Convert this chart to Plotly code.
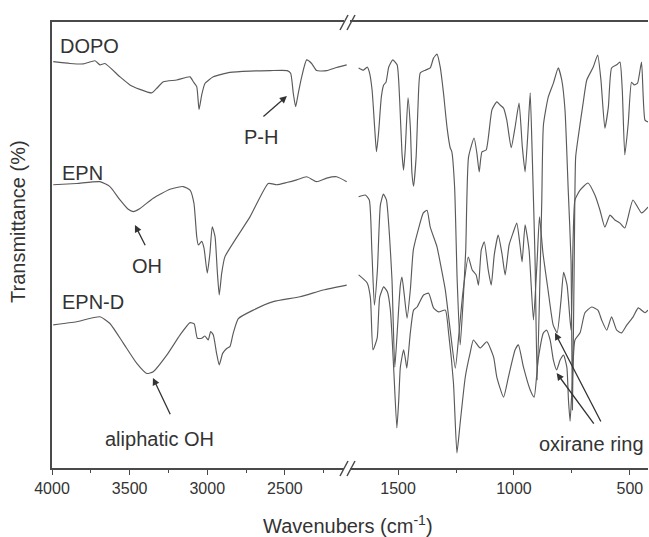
import plotly.graph_objects as go

# ---------------- data (wavenumber cm-1, transmittance arb. units) ----------------
# high-wavenumber window (4000 - 2100)
dopo_hi_wn = [3992, 3884, 3798, 3723, 3691, 3659, 3562, 3498, 3434, 3358, 3326, 3283, 3197, 3111, 3090,
              3068, 3053, 3036, 3015, 2961, 2854, 2725, 2596, 2485, 2463, 2446, 2431, 2414, 2392, 2360,
              2328, 2296, 2231, 2167, 2102]
dopo_hi_t = [91.1, 90.7, 90.6, 91.3, 90.4, 90.7, 87.7, 85.9, 84.9, 84.1, 85.1, 86.6, 87.0, 87.7, 86.6,
             85.5, 80.4, 83.6, 86.2, 87.7, 88.7, 89.0, 89.1, 89.1, 88.5, 84.0, 81.0, 84.0, 87.7, 91.5,
             90.7, 89.1, 89.1, 89.8, 90.4]

epn_hi_wn = [3992, 3841, 3691, 3627, 3562, 3509, 3477, 3433, 3348, 3240, 3155, 3111, 3086, 3068, 3058,
             3036, 3021, 3000, 2983, 2968, 2950, 2936, 2923, 2907, 2886, 2725, 2607, 2553, 2489, 2424,
             2360, 2296, 2231, 2167, 2102]
epn_hi_t = [63.5, 63.8, 64.2, 63.1, 60.1, 58.0, 57.5, 58.2, 60.5, 62.5, 63.1, 62.3, 59.4, 51.9, 50.0,
            50.8, 49.3, 43.7, 48.1, 54.1, 51.9, 44.4, 38.8, 43.7, 47.4, 56.3, 63.8, 63.5, 64.0, 64.6,
            65.3, 64.2, 65.0, 65.3, 64.2]

epnd_hi_wn = [3992, 3841, 3691, 3627, 3541, 3455, 3390, 3348, 3261, 3176, 3111, 3084, 3064, 3036, 3015,
              2994, 2978, 2961, 2940, 2923, 2901, 2875, 2854, 2833, 2800, 2704, 2575, 2403, 2253, 2102]
epnd_hi_t = [32.1, 32.8, 33.9, 32.4, 28.0, 23.5, 21.2, 21.6, 25.3, 29.8, 32.6, 32.3, 29.1, 29.1, 29.6,
             28.7, 30.6, 29.8, 25.7, 23.1, 25.7, 26.8, 27.2, 30.2, 33.5, 35.4, 37.3, 38.4, 39.9, 41.0]

# fingerprint window (1720 - 420)
dopo_lo_wn = [1670, 1649, 1633, 1624, 1612, 1601, 1593, 1584, 1572, 1562, 1552, 1540, 1523, 1504, 1493,
              1483, 1476, 1469, 1457, 1447, 1440, 1433, 1422, 1414, 1404, 1382, 1361, 1347, 1332, 1318,
              1304, 1289, 1275, 1268, 1256, 1245, 1232, 1219, 1208, 1196, 1172, 1160, 1150, 1138, 1120,
              1095, 1074, 1060, 1045, 1031, 1012, 995, 978, 964, 952, 940, 930, 921, 909, 900,
              887, 880, 873, 852, 830, 809, 794, 780, 766, 754, 748, 740, 734, 723, 701,
              686, 658, 639, 625, 608, 593, 579, 557, 543, 533, 522, 507, 493, 481, 467,
              450, 435, 422]
dopo_lo_t = [89.7, 89.2, 89.9, 88.8, 84.8, 76.5, 70.9, 75.1, 83.2, 85.9, 86.5, 89.9, 91.5, 90.4, 82.5,
             70.6, 66.8, 71.3, 83.0, 76.5, 66.1, 63.2, 69.7, 80.9, 88.6, 89.2, 89.7, 91.9, 92.8, 89.9,
             84.1, 76.5, 71.8, 70.9, 63.0, 42.2, 27.6, 37.7, 48.9, 69.7, 74.0, 70.6, 66.4, 70.9, 71.3,
             80.3, 82.1, 81.4, 80.7, 78.0, 71.8, 76.5, 81.8, 72.0, 66.4, 75.1, 84.1, 69.7, 46.6, 19.7,
             44.4, 60.1, 76.9, 83.2, 86.3, 89.7, 87.0, 80.3, 62.3, 46.6, 13.0, 47.3, 69.7, 74.2, 82.1,
             87.0, 89.9, 92.6, 87.0, 76.2, 80.9, 89.7, 90.4, 91.0, 84.8, 70.2, 77.4, 86.5, 85.9, 86.3,
             91.0, 78.0, 77.6]

epn_lo_wn = [1670, 1641, 1624, 1613, 1602, 1589, 1576, 1563, 1550, 1537, 1526, 1514, 1503, 1490, 1483,
             1473, 1461, 1447, 1434, 1413, 1391, 1375, 1361, 1332, 1318, 1296, 1275, 1253, 1236, 1219,
             1197, 1180, 1163, 1153, 1141, 1128, 1111, 1098, 1085, 1068, 1051, 1038, 1021, 1004, 988,
             974, 965, 952, 935, 916, 900, 890, 875, 853, 831, 814, 797, 786, 771, 754,
             745, 737, 715, 681, 651, 629, 608, 586, 565, 543, 522, 487, 450, 422]
epn_lo_t = [60.8, 61.2, 60.1, 48.9, 36.5, 44.4, 59.0, 61.4, 60.1, 52.2, 42.2, 22.6, 30.9, 41.0, 42.8,
            38.8, 33.6, 39.9, 48.9, 53.4, 57.2, 57.8, 54.0, 49.6, 46.0, 39.9, 30.9, 22.4, 30.9, 39.9,
            47.3, 44.4, 43.3, 41.0, 48.9, 50.7, 44.4, 41.0, 47.8, 52.2, 47.8, 43.3, 50.0, 52.7, 54.9,
            50.0, 46.2, 54.5, 48.9, 33.2, 46.6, 56.3, 48.2, 39.9, 32.1, 30.3, 37.7, 43.9, 41.0, 30.9,
            51.1, 60.1, 62.3, 63.9, 61.2, 57.8, 54.0, 56.7, 55.6, 54.9, 53.8, 60.1, 57.2, 58.5]

epnd_lo_wn = [1670, 1633, 1619, 1608, 1590, 1579, 1562, 1546, 1533, 1519, 1505, 1497, 1490, 1476, 1469,
              1462, 1447, 1433, 1418, 1390, 1368, 1347, 1325, 1296, 1282, 1261, 1246, 1232, 1210, 1189,
              1175, 1146, 1117, 1088, 1074, 1045, 1024, 995, 981, 959, 930, 913, 896, 873, 859,
              844, 830, 816, 801, 786, 772, 765, 758, 750, 737, 715, 694, 665, 638, 622,
              600, 579, 557, 536, 513, 486, 464, 435, 422]
epnd_lo_t = [43.3, 41.5, 38.1, 26.5, 29.1, 38.3, 40.6, 39.5, 35.4, 22.6, 9.0, 15.2, 22.6, 26.5, 24.7,
             22.4, 30.3, 35.4, 36.1, 38.8, 39.2, 35.9, 35.0, 35.4, 30.3, 19.1, 3.4, 10.1, 20.4, 25.8,
             28.7, 26.9, 28.3, 24.9, 20.4, 15.9, 20.4, 26.5, 27.6, 22.6, 17.5, 15.9, 24.2, 30.3, 30.9,
             28.7, 24.2, 22.0, 24.2, 25.3, 22.6, 15.2, 10.5, 17.5, 28.7, 30.3, 34.8, 36.1, 35.4, 33.2,
             30.9, 33.9, 30.9, 30.3, 32.1, 33.9, 35.9, 34.8, 35.4]

hi_ticks = [4000, 3500, 3000, 2500]
hi_minor = [3750, 3250, 2750, 2250]
lo_ticks = [1500, 1000, 500]
lo_minor = [1250, 750]

# ---------------- figure ----------------
FONT = "Liberation Sans, Arial, sans-serif"
LINE = "#5a5a5a"
AX = "#4a4a4a"
TXT = "#333333"

fig = go.Figure()
for wn, t in [(dopo_hi_wn, dopo_hi_t), (epn_hi_wn, epn_hi_t), (epnd_hi_wn, epnd_hi_t)]:
    fig.add_trace(go.Scatter(x=wn, y=t, mode="lines", xaxis="x", yaxis="y",
                             line=dict(color=LINE, width=1.15, shape="spline", smoothing=0.5),
                             showlegend=False, hoverinfo="skip"))
for wn, t in [(dopo_lo_wn, dopo_lo_t), (epn_lo_wn, epn_lo_t), (epnd_lo_wn, epnd_lo_t)]:
    fig.add_trace(go.Scatter(x=wn, y=t, mode="lines", xaxis="x2", yaxis="y",
                             line=dict(color=LINE, width=1.15, shape="spline", smoothing=0.5),
                             showlegend=False, hoverinfo="skip", cliponaxis=True))

split = 0.495
axis_common = dict(showline=True, linecolor=AX, linewidth=1.6, mirror=True, ticks="outside",
                   ticklen=5, tickwidth=1.3, tickcolor=AX, showgrid=False, zeroline=False,
                   tickfont=dict(family=FONT, size=16, color=TXT), anchor="y", automargin=False)
fig.update_layout(
    width=649, height=537,
    margin=dict(l=52, r=1, t=22, b=69, autoexpand=False),
    paper_bgcolor="white", plot_bgcolor="white",
    xaxis=dict(domain=[0, split], range=[4000, 2100], tickmode="array", tickvals=hi_ticks,
               minor=dict(tickmode="array", tickvals=hi_minor, ticks="outside", ticklen=3,
                          tickcolor=AX, tickwidth=1.2),
               **axis_common),
    xaxis2=dict(domain=[split, 1], range=[1720, 422], tickmode="array", tickvals=lo_ticks,
                minor=dict(tickmode="array", tickvals=lo_minor, ticks="outside", ticklen=3,
                           tickcolor=AX, tickwidth=1.2),
                **axis_common),
    yaxis=dict(domain=[0, 1], range=[0, 100], showline=True, linecolor=AX, linewidth=1.6,
               mirror=False, ticks="", showticklabels=False, showgrid=False, zeroline=False,
               anchor="x", automargin=False),
    showlegend=False,
)

# axis break marks "//"
def px_x(p):
    return (p - 52) / 596.0

def px_y(p):
    return (468 - p) / 446.0

for yc in (22, 468):
    fig.add_shape(type="rect", xref="paper", yref="paper",
                  x0=px_x(344), x1=px_x(350), y0=px_y(yc + 2), y1=px_y(yc - 2),
                  line=dict(width=0), fillcolor="white", layer="above")
    for dx in (0, 7):
        fig.add_shape(type="line", xref="paper", yref="paper",
                      x0=px_x(340 + dx), y0=px_y(yc + 8), x1=px_x(348 + dx), y1=px_y(yc - 7),
                      line=dict(color=AX, width=1.5), layer="above")

def label(text, x, y, xref="x", xanchor="center"):
    fig.add_annotation(text=text, x=x, y=y, xref=xref, yref="y", showarrow=False,
                       xanchor=xanchor, yanchor="middle",
                       font=dict(family=FONT, size=20, color=TXT))

def arrow(x, y, ax, ay, xref="x"):
    fig.add_annotation(x=x, y=y, ax=ax, ay=ay, xref=xref, yref="y",
                       axref=xref, ayref="y", text="", showarrow=True,
                       arrowhead=2, arrowsize=1.1, arrowwidth=1.3, arrowcolor="#333333")

label("DOPO", 3961, 94.6, xanchor="left")
label("EPN", 3948, 66.1, xanchor="left")
label("EPN-D", 3948, 37.2, xanchor="left")
label("P-H", 2654, 74.2)
arrow(2487, 83.4, 2648, 78.5)
label("OH", 3388, 45.3)
arrow(3466, 54.5, 3395, 49.6)
label("aliphatic OH", 3305, 6.5)
arrow(3350, 20.2, 3234, 11.7)
label("oxirane ring", 664, 5.4, xref="x2")
arrow(816, 21.3, 651, 9.6, xref="x2")
arrow(823, 30.3, 622, 10.1, xref="x2")

# axis titles
fig.add_annotation(text="Wavenubers (cm<sup>-1</sup>)", xref="paper", yref="paper",
                   x=px_x(347.5), y=px_y(524), showarrow=False, xanchor="center", yanchor="middle",
                   font=dict(family=FONT, size=20, color=TXT))
fig.add_annotation(text="Transmittance (%)", xref="paper", yref="paper", textangle=-90,
                   x=px_x(18), y=px_y(222), showarrow=False, xanchor="center", yanchor="middle",
                   font=dict(family=FONT, size=20, color=TXT))

fig.write_html("out.html", config={"displayModeBar": False},
               post_script="document.body.style.margin='0';document.body.style.overflow='hidden';")
